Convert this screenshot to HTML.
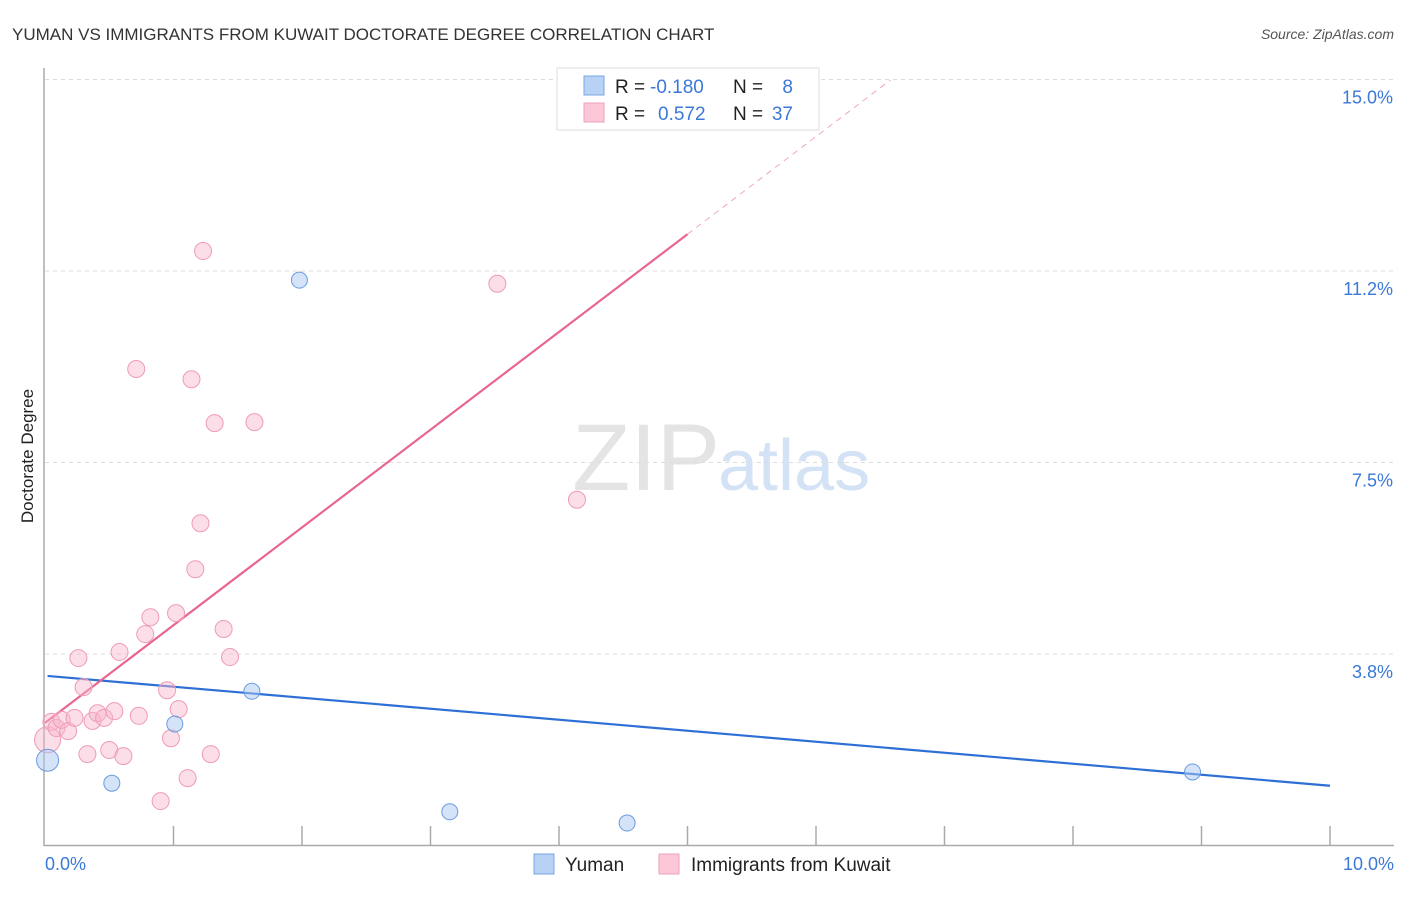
<!DOCTYPE html>
<html><head><meta charset="utf-8">
<style>
body{margin:0;background:#fff;font-family:"Liberation Sans",sans-serif;}
svg text{font-family:"Liberation Sans",sans-serif;}
</style></head>
<body>
<svg width="1406" height="892" viewBox="0 0 1406 892">
<text x="12" y="40" font-size="17" fill="#333">YUMAN VS IMMIGRANTS FROM KUWAIT DOCTORATE DEGREE CORRELATION CHART</text>
<text x="1394" y="39" font-size="14" fill="#555" font-style="italic" text-anchor="end">Source: ZipAtlas.com</text>
<text x="720" y="490" font-size="95" fill="#e4e4e4" text-anchor="end" font-family="Liberation Serif">ZIP</text>
<text x="718" y="490" font-size="72" fill="#d3e2f5">atlas</text>
<g id="grid"></g>
<g id="axes"></g>
<g id="trends"></g>
<g id="points"></g>
<text transform="translate(33,456) rotate(-90)" font-size="17" fill="#222" text-anchor="middle">Doctorate Degree</text>
<text x="45" y="870" font-size="18" fill="#3b78d8">0.0%</text>
<text x="1394" y="870" font-size="18" fill="#3b78d8" text-anchor="end">10.0%</text>
<g>
<rect x="557" y="68" width="262" height="62" fill="#fff" stroke="#ddd"/>
<rect x="584" y="76" width="20" height="19" fill="#b8d2f5" stroke="#7aa5e6"/>
<rect x="584" y="103" width="20" height="19" fill="#fcc8d8" stroke="#f0a0b8"/>
<text x="615" y="93" font-size="19" fill="#222">R =</text>
<text x="650" y="93" font-size="19" fill="#3b78d8">-0.180</text>
<text x="733" y="93" font-size="19" fill="#222">N =</text>
<text x="793" y="93" font-size="19" fill="#3b78d8" text-anchor="end">8</text>
<text x="615" y="120" font-size="19" fill="#222">R =</text>
<text x="658" y="120" font-size="19" fill="#3b78d8">0.572</text>
<text x="733" y="120" font-size="19" fill="#222">N =</text>
<text x="793" y="120" font-size="19" fill="#3b78d8" text-anchor="end">37</text>
</g>
<g>
<rect x="534" y="854" width="20" height="20" fill="#b8d2f5" stroke="#7aa5e6"/>
<text x="565" y="871" font-size="19" fill="#222">Yuman</text>
<rect x="659" y="854" width="20" height="20" fill="#fcc8d8" stroke="#f0a0b8"/>
<text x="691" y="871" font-size="19" fill="#222">Immigrants from Kuwait</text>
</g>
</svg>
<script>
const yTicks=[3.75,7.5,11.25,15];
const yTickLabels=["3.8%","7.5%","11.2%","15.0%"];
const xTicks=[1,2,3,4,5,6,7,8,9,10];
const yumanX=[0.02,0.52,1.01,1.61,1.98,3.15,4.53,8.93];
const yumanY=[1.67,1.22,2.38,3.02,11.07,0.66,0.44,1.44];
const yumanR=[11,8,8,8,8,8,8,8];
const kuwaitX=[0.02,0.05,0.09,0.13,0.18,0.23,0.26,0.30,0.33,0.37,0.41,0.46,0.50,0.54,0.58,0.61,0.71,0.73,0.78,0.82,0.90,0.95,0.98,1.02,1.04,1.11,1.14,1.17,1.21,1.23,1.29,1.32,1.39,1.44,1.63,3.52,4.14];
const kuwaitY=[2.07,2.42,2.30,2.46,2.24,2.50,3.67,3.10,1.79,2.44,2.59,2.50,1.87,2.63,3.79,1.75,9.33,2.54,4.14,4.47,0.87,3.04,2.10,4.55,2.67,1.32,9.13,5.41,6.31,11.64,1.79,8.27,4.24,3.69,8.29,11.00,6.77];
const yumanTrend=[[0.02,3.32],[10,1.17]];
const kuwaitTrend=[[0,2.40],[5.0,11.97]];
const kuwaitTrendExt=[[5.0,11.97],[6.58,14.99]];
const NS="http://www.w3.org/2000/svg";
const xs=v=>45+v*128.5, ys=v=>845.5-v*51.07;
function mk(tag,attrs,parent){const e=document.createElementNS(NS,tag);for(const k in attrs)e.setAttribute(k,attrs[k]);document.getElementById(parent).appendChild(e);return e;}
yTicks.forEach((t,i)=>{
 const l=mk('line',{x1:45,x2:1394,y1:ys(t),y2:ys(t),stroke:'#ddd','stroke-dasharray':'4,4'},'grid');
 
 
 const tx=mk('text',{x:1393,y:ys(t)+24,'font-size':18,fill:'#3b78d8','text-anchor':'end'},'grid');
 tx.textContent=yTickLabels[i];
 
 
});
let a=mk('line',{x1:44,x2:44,y1:68,y2:846,stroke:'#aaa','stroke-width':1.5},'axes');


a=mk('line',{x1:44,x2:1394,y1:845.5,y2:845.5,stroke:'#aaa','stroke-width':1.5},'axes');


xTicks.forEach(t=>{
 const l=mk('line',{x1:xs(t),x2:xs(t),y1:826,y2:845,stroke:'#aaa','stroke-width':1.5},'axes');
 
 
});
function line(seg,color,dash,name){
 const l=mk('line',{x1:xs(seg[0][0]),y1:ys(seg[0][1]),x2:xs(seg[1][0]),y2:ys(seg[1][1]),stroke:color,'stroke-width':dash?1:2.2},'trends');
 if(dash)l.setAttribute('stroke-dasharray','6,5');
 
 
}
line(yumanTrend,'#2e6fd6',false,'yuman-trend-line');
line(kuwaitTrend,'#e8668f',false,'kuwait-trend-line');
line(kuwaitTrendExt,'#f0a8bf',true,'kuwait-trend-extension');
kuwaitX.forEach((x,i)=>{
 const c=mk('circle',{cx:xs(x),cy:ys(kuwaitY[i]),r:i==0?13:8.5,fill:'rgba(248,182,203,0.45)',stroke:'#ef9bb6','stroke-width':1},'points');
 
 
});
yumanX.forEach((x,i)=>{
 const c=mk('circle',{cx:xs(x),cy:ys(yumanY[i]),r:yumanR[i],fill:'rgba(170,200,242,0.5)',stroke:'#6b9be0','stroke-width':1},'points');
 
 
});
</script>
</body></html>
